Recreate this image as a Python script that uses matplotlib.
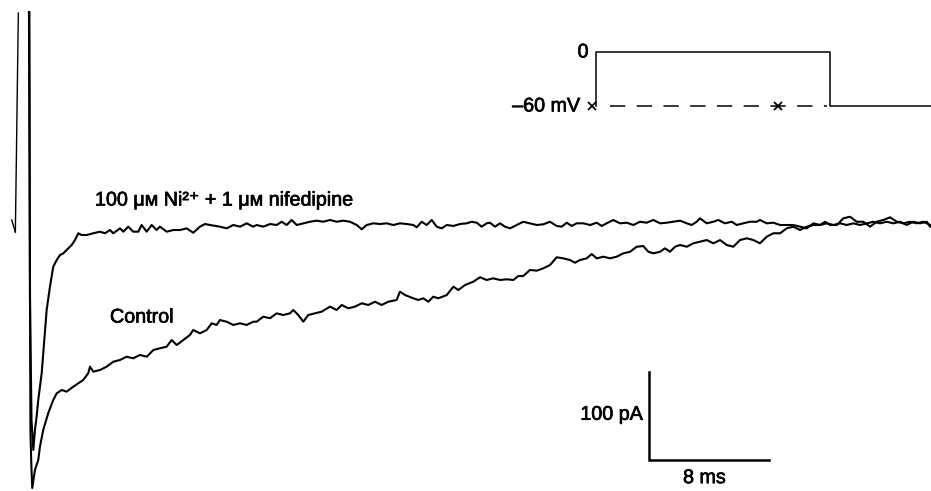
import matplotlib
matplotlib.use("Agg")
import matplotlib.pyplot as plt
import matplotlib.patheffects as pe

# whole-cell Ca current traces, time in ms, current in pA
t_ni = [0.0, 0.07, 0.17, 0.29, 0.40, 0.51, 0.62, 0.85, 1.18, 1.40, 1.62, 1.85, 2.07, 2.29, 2.51,
        2.85, 3.07, 3.29, 3.51, 3.85, 4.29, 4.73, 5.07, 5.40, 5.62, 6.07, 6.29, 6.62, 6.95, 7.29,
        7.51, 7.85, 8.18, 8.51, 8.73, 9.18, 9.62, 10.07, 10.51, 10.95, 11.40, 11.73, 12.07, 12.73,
        13.18, 13.62, 14.07, 14.51, 14.95, 15.18, 15.62, 16.07, 16.51, 16.85, 17.18, 17.51, 17.85,
        18.29, 18.73, 19.18, 19.62, 20.07, 20.51, 20.95, 21.40, 21.85, 22.18, 22.51, 22.95, 23.40,
        23.85, 24.29, 24.73, 25.18, 25.62, 25.85, 26.18, 26.51, 26.85, 27.18, 27.51, 27.85, 28.29,
        28.73, 29.18, 29.51, 29.85, 30.18, 30.51, 30.73, 31.07, 31.40, 31.73, 32.07, 32.51, 32.95,
        33.40, 33.85, 34.29, 34.73, 35.18, 35.51, 35.85, 36.18, 36.51, 36.95, 37.40, 37.85, 38.18,
        38.51, 38.95, 39.40, 39.85, 40.29, 40.73, 41.18, 41.62, 42.07, 42.51, 42.95, 43.40, 43.85,
        44.18, 44.51, 44.73, 45.18, 45.62, 45.95, 46.40, 46.85, 47.18, 47.62, 48.07, 48.51, 48.73,
        49.18, 49.62, 50.07, 50.51, 50.95, 51.40, 51.85, 52.29, 52.73, 53.18, 53.62, 54.07, 54.51,
        54.95, 55.40, 55.85, 56.29, 56.73, 57.18, 57.62, 58.07, 58.51, 58.95, 59.40, 59.85, 60.07]
i_ni = [238.6, -88.6, -225.0, -259.1, -236.4, -221.3, -202.3, -171.6, -100.0, -73.5, -50.8, -43.2,
        -37.5, -35.6, -31.8, -26.1, -20.5, -12.8, -14.8, -14.8, -12.8, -11.0, -12.8, -9.1, -12.8,
        -7.2, -11.0, -5.3, -11.0, -11.0, -3.4, -11.0, -3.4, -9.1, -5.3, -11.0, -9.1, -9.1, -7.2,
        -12.2, -5.3, -2.3, -3.4, -5.3, -7.2, -3.4, -5.3, -1.5, -5.3, -3.4, -5.3, -2.3, -3.4, 0.3,
        -3.4, 2.3, -3.4, -1.5, 0.3, 1.5, 0.3, 2.3, 0.3, 1.5, 0.3, -3.4, -8.3, -3.4, -1.5, -2.3,
        -1.5, -3.4, -1.5, -2.3, -3.4, -6.0, 0.3, -3.4, 2.3, -5.3, -7.2, -3.4, -4.5, -2.3, -1.5,
        0.3, -0.8, -5.3, -1.5, -0.8, -5.3, -1.5, -5.3, -7.2, -3.4, 0.3, -1.5, -3.4, -2.6, 0.3,
        -4.5, -5.3, -0.8, -4.5, -1.5, -1.5, -3.4, -0.8, -4.5, -1.5, 2.3, -1.5, -0.8, -3.4, 0.3,
        -0.8, 2.3, -1.5, -0.8, 0.3, 1.5, -1.5, -3.4, 0.3, 4.2, -1.5, 0.3, 2.3, -1.5, 0.3, -3.4,
        -1.5, 0.3, 0.3, 2.3, -1.5, -0.8, -3.4, -3.4, -3.4, -5.3, -7.2, -1.5, -3.4, -1.5, -3.4,
        -1.5, -3.4, -1.5, -3.4, -1.5, 0.3, -1.5, 0.3, -1.5, 0.3, -3.4, 0.3, -1.5, 0.3, -5.3]

t_ctl = [0.03, 0.07, 0.10, 0.17, 0.22, 0.40, 0.62, 0.73, 0.95, 1.29, 1.62, 1.85, 2.18, 2.51, 2.95,
         3.29, 3.62, 3.95, 4.07, 4.29, 4.73, 5.18, 5.62, 6.07, 6.51, 6.95, 7.40, 7.85, 8.29, 8.73,
         9.18, 9.51, 9.85, 10.29, 10.73, 10.95, 11.40, 11.85, 12.18, 12.51, 12.73, 13.18, 13.62,
         14.07, 14.51, 14.95, 15.18, 15.62, 16.07, 16.51, 16.95, 17.40, 17.62, 17.95, 18.29, 18.62,
         19.07, 19.51, 20.07, 20.51, 20.85, 21.29, 21.73, 22.18, 22.62, 23.07, 23.51, 23.95, 24.51,
         24.73, 25.07, 25.62, 25.95, 26.29, 26.62, 26.95, 27.29, 27.85, 28.29, 28.62, 29.07, 29.62,
         30.07, 30.51, 30.95, 31.40, 31.85, 32.29, 32.62, 32.95, 33.40, 33.85, 34.29, 34.73, 35.18,
         35.62, 36.07, 36.40, 36.73, 37.18, 37.51, 37.85, 38.29, 38.73, 39.18, 39.62, 40.07, 40.51,
         40.95, 41.29, 41.62, 42.07, 42.40, 42.73, 43.07, 43.40, 43.85, 44.29, 44.73, 45.18, 45.62,
         46.07, 46.51, 46.95, 47.40, 47.85, 48.29, 48.73, 49.18, 49.62, 50.07, 50.51, 50.95, 51.40,
         51.85, 52.29, 52.73, 53.07, 53.40, 53.85, 54.29, 54.73, 55.18, 55.62, 56.07, 56.51, 56.95,
         57.40, 57.85, 58.29, 58.73, 59.18, 59.62, 60.07]
i_ctl = [238.6, -88.6, -239.8, -281.8, -302.3, -281.8, -270.5, -255.7, -236.4, -217.0, -202.3,
         -194.7, -190.9, -192.8, -187.2, -183.3, -179.5, -171.9, -164.4, -170.1, -168.2, -164.4,
         -158.8, -156.8, -153.1, -154.9, -151.1, -153.1, -145.5, -143.5, -141.7, -134.1, -139.8,
         -134.1, -128.4, -122.7, -126.5, -122.7, -115.1, -117.0, -111.4, -113.3, -117.0, -115.1,
         -117.0, -113.3, -113.3, -107.6, -109.4, -103.8, -105.7, -103.8, -100.0, -105.7, -113.3,
         -105.7, -103.8, -101.9, -96.2, -100.0, -94.3, -98.1, -96.2, -92.4, -94.3, -90.6, -94.3,
         -90.6, -88.6, -79.2, -83.0, -86.7, -88.6, -86.7, -90.6, -84.9, -86.7, -83.0, -73.5, -77.3,
         -71.6, -67.8, -62.8, -65.9, -64.0, -65.9, -65.1, -65.9, -61.4, -61.4, -54.5, -55.3, -52.6,
         -48.9, -40.1, -41.3, -43.2, -46.3, -43.2, -41.3, -36.4, -41.3, -39.4, -41.3, -39.4, -35.6,
         -33.8, -28.1, -27.3, -33.8, -35.6, -33.8, -29.9, -33.8, -28.1, -26.1, -28.1, -24.2, -22.4,
         -20.5, -24.2, -20.5, -26.1, -28.1, -20.5, -18.5, -20.5, -24.2, -16.7, -12.8, -12.8, -7.2,
         -5.3, -9.1, -5.3, -3.4, -3.4, 0.3, -3.4, -3.4, 4.2, 6.0, 0.3, 0.3, -5.3, 0.3, 2.3, 5.3,
         0.3, -1.5, 0.3, -1.5, 0.3, -3.4]

# voltage protocol (schematic), ms / mV
v_t = [0, 0, 15.6, 15.6, 22.4]
v_mv = [-60, 0, 0, -60, -60]
hold_t = [0.9, 15.4]
hold_mv = [-60, -60]
cross_t = [-0.3, 12.1]
cross_mv = [-60, -60]

# scale bars
bar_ms = 8
bar_pa = 100

plt.rcParams['font.family'] = ['Liberation Sans', 'DejaVu Sans']
ink = [pe.withStroke(linewidth=0.5, foreground='black')]
fs = 14.2

fig = plt.figure(figsize=(9.31, 4.91), dpi=100)
ax = fig.add_axes([0, 0, 1, 1])
ax.set_xlim(-1.93, 60.13)
ax.set_ylim(-305.7, 252.3)
ax.axis('off')

ax.plot(t_ctl, i_ctl, color='black', lw=1.5)
ax.plot(t_ni, i_ni, color='black', lw=1.5)

ax.text(4.4, 25, '100 μᴍ Ni²⁺ + 1 μᴍ nifedipine', fontsize=fs, va='center', ha='left',
        path_effects=ink)
ax.text(5.4, -108, 'Control', fontsize=fs, va='center', ha='left', path_effects=ink)

# off-scale arrow at left
ax.plot([0.0197, 0.0165], [0.9735, 0.5275], transform=ax.transAxes, color='black', lw=1.0)
ax.plot([0.0126, 0.0165], [0.552, 0.5275], transform=ax.transAxes, color='black', lw=1.0)

# scale bar
x0, y0 = 41.33, -270.5
ax.plot([x0, x0, x0 + bar_ms], [y0 + bar_pa, y0, y0], color='black', lw=1.8,
        solid_joinstyle='miter')
ax.text(x0 - 0.4, y0 + 0.52 * bar_pa, '%d pA' % bar_pa, fontsize=fs, ha='right', va='center',
        path_effects=ink)
ax.text(x0 + bar_ms / 2 - 0.3, y0 - 20, '%d ms' % bar_ms, fontsize=fs, ha='center', va='center',
        path_effects=ink)

# voltage protocol inset
ins = fig.add_axes([520 / 931, 1 - 130 / 491, 411 / 931, 100 / 491])
ins.set_xlim(-5.07, 22.33)
ins.set_ylim(-86.7, 24.4)
ins.axis('off')
ins.plot(v_t, v_mv, color='black', lw=1.1, clip_on=False)
ins.plot(hold_t, hold_mv, color='black', lw=1.1, dashes=(10, 7.5))
ins.plot(cross_t, cross_mv, ls='none', marker='x', color='black', ms=6, mew=1.3)
ins.text(-0.5, 0, '0', fontsize=fs, ha='right', va='center', path_effects=ink)
ins.text(-1.05, -60, '\u201360 mV', fontsize=fs, ha='right', va='center', path_effects=ink)

fig.savefig('out.png', dpi=100)
